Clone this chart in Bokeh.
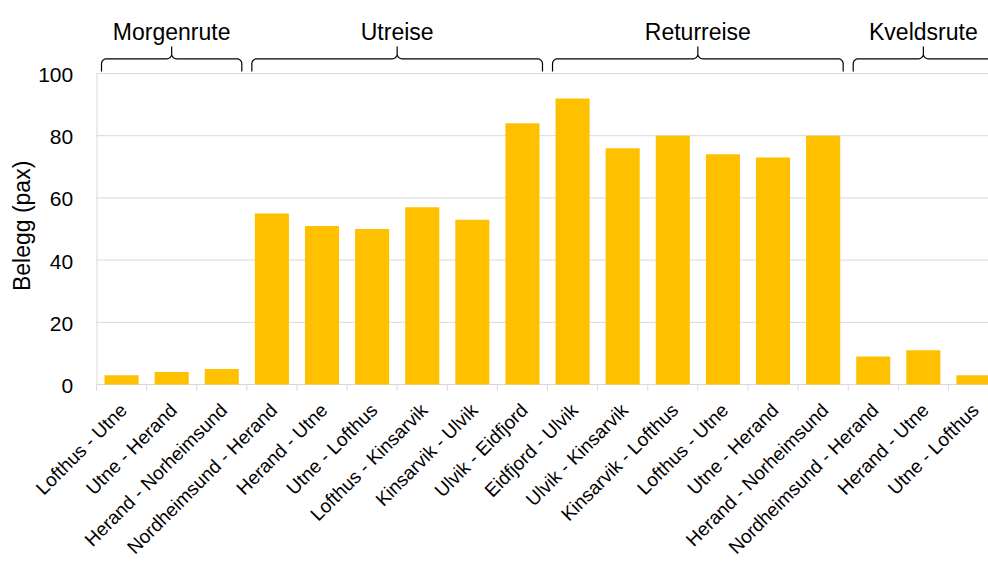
import numpy as np
from bokeh.plotting import figure
from bokeh.models import Range1d
from bokeh.embed import file_html
from bokeh.resources import INLINE
from bokeh.core.properties import value

# Ferry legs in sailing order, with average occupancy (passengers)
routes = [
    "Lofthus - Utne", "Utne - Herand", "Herand - Norheimsund",
    "Nordheimsund - Herand", "Herand - Utne", "Utne - Lofthus",
    "Lofthus - Kinsarvik", "Kinsarvik - Ulvik", "Ulvik - Eidfjord",
    "Eidfjord - Ulvik", "Ulvik - Kinsarvik", "Kinsarvik - Lofthus",
    "Lofthus - Utne", "Utne - Herand", "Herand - Norheimsund",
    "Nordheimsund - Herand", "Herand - Utne", "Utne - Lofthus",
]
belegg = [3, 4, 5, 55, 51, 50, 57, 53, 84, 92, 76, 80, 74, 73, 80, 9, 11, 3]

# Trip groups (name, number of legs)
group_names = ["Morgenrute", "Utreise", "Returreise", "Kveldsrute"]
group_sizes = [3, 6, 6, 3]

y_ticks = [0, 20, 40, 60, 80, 100]
y_title = "Belegg (pax)"

FONT = "Liberation Sans"
BAR = "#FFC000"
GRID = "#d9d9d9"

W, H = 988, 561
LEFT = 96  # room for the value axis inside the canvas

# scales: one category = ~50 px, 100 pax = 311 px, zero line 384 px from the top
XA = -0.5                       # left edge of the bar area
X1 = 17.3                       # right edge (the last bar runs off the page)
px_x = (W - LEFT) / (X1 - XA)
X0 = XA - LEFT / px_x
px_y = 3.11
Y1 = 100 + 73 / px_y
Y0 = Y1 - H / px_y

p = figure(
    width=W, height=H, output_backend="svg", toolbar_location=None,
    x_range=Range1d(X0, X1), y_range=Range1d(Y0, Y1),
    x_axis_location=None, y_axis_location=None,
    min_border_left=0, min_border_right=0, min_border_top=0, min_border_bottom=0,
)
p.outline_line_color = None
p.background_fill_color = "white"
p.border_fill_color = "white"
p.xgrid.visible = False
p.ygrid.visible = False

# horizontal grid lines and value axis rule
p.segment(x0=[XA] * len(y_ticks), y0=y_ticks, x1=[X1] * len(y_ticks), y1=y_ticks,
          line_color=GRID, line_width=1)
rule_x = XA + 0.5 / px_x
p.segment(x0=[rule_x], y0=[0], x1=[rule_x], y1=[max(y_ticks)],
          line_color=GRID, line_width=1)

# value axis tick labels
p.text(x=[XA - 23.3 / px_x] * len(y_ticks), y=[t - 1.5 / px_y for t in y_ticks],
       text=[str(t) for t in y_ticks],
       text_align="right", text_baseline="middle",
       text_font=value(FONT), text_font_size="21px", text_color="black")

# value axis title, reading upwards
p.text(x=[XA - (96 - 21.5) / px_x], y=[(max(y_ticks) + min(y_ticks)) / 2 + 1.0],
       text=[y_title], angle=np.pi / 2, text_align="center", text_baseline="alphabetic",
       text_font=value(FONT), text_font_size="23px", text_color="black")

# bars
xs = list(range(len(routes)))
p.vbar(x=xs, top=belegg, width=0.68, fill_color=BAR, line_color=None)

# tick marks between categories, hanging 6 px below the zero line
bounds = [i - 0.5 for i in range(len(routes) + 1)]
p.segment(x0=bounds, y0=[0] * len(bounds), x1=bounds, y1=[-6 / px_y] * len(bounds),
          line_color=GRID, line_width=1)

# category labels, rotated 45 degrees and ending just under each bar
p.text(x=[i + 2.0 / px_x for i in xs], y=[-22.5 / px_y] * len(xs), text=routes,
       angle=np.pi / 4, text_align="right", text_baseline="alphabetic",
       text_font=value(FONT), text_font_size="19px", text_color="black")


def brace(xa, xb, y_h=58.3, y_end=71.0, y_tip=46.0, r=5.0, n=8):
    """Data-space path of a curly brace spanning xa..xb (pixel offsets for the shape)."""
    xm = (xa + xb) / 2
    pts = [(xa, 0.0, y_end)]
    for t in np.linspace(np.pi, 1.5 * np.pi, n):          # left corner
        pts.append((xa, r + r * np.cos(t), y_h + r + r * np.sin(t)))
    for t in np.linspace(0.5 * np.pi, 0.0, n):            # rise into the tip
        pts.append((xm, -r + r * np.cos(t), y_h - r + r * np.sin(t)))
    pts.append((xm, 0.0, y_tip))
    for t in np.linspace(np.pi, 0.5 * np.pi, n):          # fall out of the tip
        pts.append((xm, r + r * np.cos(t), y_h - r + r * np.sin(t)))
    for t in np.linspace(1.5 * np.pi, 2 * np.pi, n):      # right corner
        pts.append((xb, -r + r * np.cos(t), y_h + r + r * np.sin(t)))
    pts.append((xb, 0.0, y_end))
    bx = [x + dx / px_x for x, dx, _ in pts]
    by = [Y1 - yy / px_y for _, _, yy in pts]
    return bx, by


brace_xs, brace_ys, label_x = [], [], []
start = 0
for size in group_sizes:
    bx, by = brace(start - 0.5 + 0.1, start + size - 0.5 - 0.1)
    brace_xs.append(bx)
    brace_ys.append(by)
    label_x.append(start + (size - 1) / 2)
    start += size

p.multi_line(xs=brace_xs, ys=brace_ys, line_color="black", line_width=1.2)
p.text(x=label_x, y=[Y1 - 31.7 / px_y] * len(label_x), text=group_names,
       text_font=value(FONT), text_font_size="23px", text_color="black",
       text_align="center", text_baseline="alphabetic")

open("out.html", "w").write(file_html(p, INLINE))
